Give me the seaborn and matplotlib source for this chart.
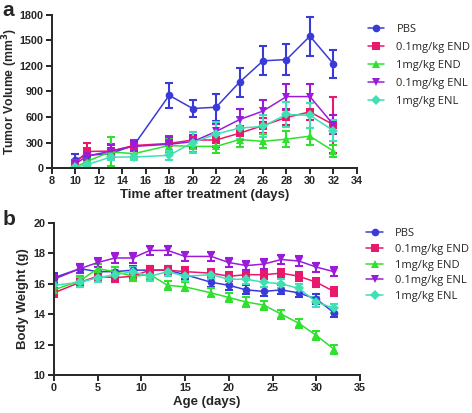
import numpy as np
import pandas as pd
import matplotlib
matplotlib.use("Agg")
import matplotlib.pyplot as plt
import seaborn as sns

# group names, colours, markers
groups = ["PBS", "0.1mg/kg END", "1mg/kg END", "0.1mg/kg ENL", "1mg/kg ENL"]
colors = ["#3a3ad8", "#e8186c", "#2fe02f", "#9a1cd8", "#3fe0b4"]
markers = ["o", "s", "^", "v", "D"]

# panel a: tumor volume
days_a = [10, 11, 13, 15, 18, 20, 22, 24, 26, 28, 30, 32]
vol_pbs = [100, 150, 170, 270, 855, 700, 715, 1010, 1260, 1275, 1550, 1225]
vol_pbs_err = [60, 50, 50, 50, 150, 100, 160, 170, 170, 180, 230, 165]
vol_end01 = [60, 195, 200, 265, 290, 330, 330, 410, 500, 595, 660, 510]
vol_end01_err = [40, 100, 80, 60, 90, 90, 80, 80, 90, 90, 100, 330]
vol_end1 = [10, 80, 190, 170, 265, 255, 255, 335, 315, 340, 375, 200]
vol_end1_err = [20, 40, 170, 50, 80, 70, 80, 90, 80, 90, 100, 70]
vol_enl01 = [50, 140, 200, 255, 280, 310, 430, 570, 670, 840, 840, 510]
vol_enl01_err = [40, 60, 70, 60, 80, 80, 90, 120, 130, 150, 150, 110]
vol_enl1 = [10, 40, 130, 130, 150, 300, 400, 470, 490, 630, 620, 440]
vol_enl1_err = [20, 30, 40, 30, 50, 120, 140, 130, 130, 150, 150, 120]

# panel b: body weight
days_b = [0, 3, 5, 7, 9, 11, 13, 15, 18, 20, 22, 24, 26, 28, 30, 32]
bw_pbs = [16.4, 17.0, 16.8, 16.8, 16.9, 16.9, 16.9, 16.6, 16.1, 15.9, 15.6, 15.5, 15.6, 15.4, 15.0, 14.1]
bw_end01 = [15.4, 16.1, 16.5, 16.4, 16.5, 16.9, 16.9, 16.8, 16.7, 16.5, 16.6, 16.6, 16.7, 16.5, 16.1, 15.5]
bw_end1 = [15.6, 16.2, 17.0, 16.8, 16.5, 16.6, 15.9, 15.8, 15.4, 15.1, 14.8, 14.6, 14.0, 13.4, 12.6, 11.7]
bw_enl01 = [16.3, 17.0, 17.4, 17.7, 17.7, 18.2, 18.2, 17.8, 17.8, 17.4, 17.2, 17.3, 17.6, 17.5, 17.1, 16.8]
bw_enl1 = [15.9, 16.1, 16.4, 16.6, 16.8, 16.5, 16.8, 16.5, 16.6, 16.3, 16.3, 16.1, 16.0, 15.7, 14.8, 14.4]
bw_err = [0.3] * 16

sns.set_style("ticks")
plt.rcParams["font.family"] = ["Liberation Sans", "DejaVu Sans"]


def make_df(days, vals, errs):
    rows = []
    for g, v, e in zip(groups, vals, errs):
        for d, y, s in zip(days, v, e):
            rows.append({"day": d, "value": y, "err": s, "group": g})
    return pd.DataFrame(rows)


df_a = make_df(days_a,
               [vol_pbs, vol_end01, vol_end1, vol_enl01, vol_enl1],
               [vol_pbs_err, vol_end01_err, vol_end1_err, vol_enl01_err, vol_enl1_err])
df_b = make_df(days_b,
               [bw_pbs, bw_end01, bw_end1, bw_enl01, bw_enl1],
               [bw_err] * 5)

fig = plt.figure(figsize=(4.72, 4.13), dpi=100)
ax_a = fig.add_axes([0.110, 0.593, 0.646, 0.371])
ax_b = fig.add_axes([0.114, 0.092, 0.649, 0.368])

palette = dict(zip(groups, colors))
mk = dict(zip(groups, markers))


def draw(ax, df, anchor, spacing):
    for g in groups:
        sub = df[df.group == g]
        ax.errorbar(sub.day, sub.value, yerr=sub.err, fmt="none",
                    ecolor=palette[g], elinewidth=1.5, capsize=3.2, capthick=1.5)
    sns.lineplot(data=df, x="day", y="value", hue="group", style="group",
                 palette=palette, markers=mk, dashes=False, errorbar=None,
                 markersize=5.5, markeredgewidth=0, linewidth=1.1, ax=ax)
    h, l = ax.get_legend_handles_labels()
    ax.legend(h, l, loc="upper left", bbox_to_anchor=anchor, frameon=False,
              handlelength=1.5, handletextpad=1.1, labelspacing=spacing,
              borderaxespad=0, borderpad=0,
              prop={"family": "Open Sans", "size": 8})
    for s in ["top", "right"]:
        ax.spines[s].set_visible(False)
    for s in ["left", "bottom"]:
        ax.spines[s].set_linewidth(1.4)
    ax.tick_params(width=1.4, length=4, labelsize=7.8, pad=2)


draw(ax_a, df_a, (1.035, 0.94), 0.62)
ax_a.set_xlim(8, 34)
ax_a.set_ylim(0, 1800)
ax_a.set_xticks(range(8, 35, 2))
ax_a.set_yticks(range(0, 1801, 300))
for t in ax_a.get_xticklabels() + ax_a.get_yticklabels():
    t.set_fontweight("bold")
ax_a.set_xlabel("Time after treatment (days)", fontsize=9.5, fontweight="bold", labelpad=2)
ax_a.set_ylabel("Tumor Volume (mm$^\\mathbf{3}$)", fontsize=8.8, fontweight="bold")
ax_a.yaxis.set_label_coords(-0.105, 0.5)

draw(ax_b, df_b, (1.02, 0.965), 0.42)
ax_b.set_xlim(0, 35)
ax_b.set_ylim(10, 20)
ax_b.set_xticks(range(0, 36, 5))
ax_b.set_yticks(range(10, 21, 2))
for t in ax_b.get_xticklabels() + ax_b.get_yticklabels():
    t.set_fontweight("bold")
ax_b.set_xlabel("Age (days)", fontsize=9.5, fontweight="bold", labelpad=2)
ax_b.set_ylabel("Body Weight (g)", fontsize=9.5, fontweight="bold")
ax_b.yaxis.set_label_coords(-0.08, 0.5)

fig.text(0.006, 0.998, "a", fontsize=15, fontweight="bold", va="top")
fig.text(0.006, 0.492, "b", fontsize=15, fontweight="bold", va="top")

fig.savefig("out.png", dpi=100)
